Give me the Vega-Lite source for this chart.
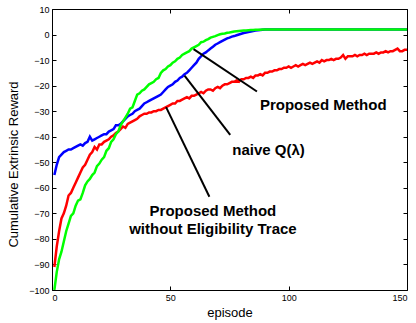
{
  "$schema": "https://vega.github.io/schema/vega-lite/v6.json",
  "width": 355,
  "height": 281,
  "autosize": {"type": "none"},
  "padding": {"left": 52, "top": 9, "right": 9, "bottom": 33},
  "background": "white",
  "config": {
    "view": {"stroke": "black", "strokeWidth": 1},
    "font": "Liberation Sans",
    "axis": {"grid": false, "domain": false, "tickColor": "black", "tickSize": -4, "tickWidth": 1, "labelColor": "black", "labelFontSize": 9, "labelFont": "Liberation Sans", "labelPadding": 7, "titleFont": "Liberation Sans", "titleFontWeight": "normal", "titleFontSize": 13, "titleColor": "black"}
  },
  "datasets": {
    "curves": [
      {"ep":1,"g":-100,"b":-55,"r":-91},{"ep":2,"g":-93,"b":-51,"r":-83},{"ep":3,"g":-88,"b":-48,"r":-77},{"ep":4,"g":-85,"b":-47,"r":-72},{"ep":5,"g":-81,"b":-46,"r":-70},
      {"ep":6,"g":-77,"b":-45.5,"r":-67},{"ep":7,"g":-74,"b":-45,"r":-63},{"ep":8,"g":-71,"b":-45,"r":-62},{"ep":9,"g":-70,"b":-44.5,"r":-60},{"ep":10,"g":-67,"b":-44,"r":-58},
      {"ep":11,"g":-65,"b":-43.5,"r":-56},{"ep":12,"g":-64.5,"b":-43,"r":-54},{"ep":13,"g":-62,"b":-43.5,"r":-52},{"ep":14,"g":-59,"b":-42.5,"r":-51},{"ep":15,"g":-57.5,"b":-42,"r":-49},
      {"ep":16,"g":-56.5,"b":-40,"r":-47},{"ep":17,"g":-55,"b":-41.5,"r":-46},{"ep":18,"g":-54,"b":-41,"r":-44},{"ep":19,"g":-51.5,"b":-40.5,"r":-45},{"ep":20,"g":-50.5,"b":-40,"r":-43},
      {"ep":21,"g":-49,"b":-39.5,"r":-43},{"ep":22,"g":-48,"b":-39,"r":-42},{"ep":23,"g":-45.5,"b":-39,"r":-41.5},{"ep":24,"g":-44.5,"b":-38,"r":-41},{"ep":25,"g":-42,"b":-37.5,"r":-40},
      {"ep":26,"g":-41,"b":-37,"r":-39.5},{"ep":27,"g":-39,"b":-35.5,"r":-38.5},{"ep":28,"g":-38,"b":-35.5,"r":-38},{"ep":29,"g":-35.5,"b":-35,"r":-37},{"ep":30,"g":-34,"b":-34,"r":-36},
      {"ep":31,"g":-32.5,"b":-33,"r":-36.5},{"ep":32,"g":-31,"b":-32,"r":-35},{"ep":33,"g":-29,"b":-31.5,"r":-34.5},{"ep":34,"g":-28.5,"b":-31,"r":-34},{"ep":35,"g":-26,"b":-30,"r":-33.5},
      {"ep":36,"g":-23.5,"b":-29.5,"r":-33},{"ep":37,"g":-23,"b":-29,"r":-32},{"ep":38,"g":-22,"b":-28,"r":-31.5},{"ep":39,"g":-21.5,"b":-27,"r":-31},{"ep":40,"g":-20.5,"b":-26.5,"r":-31},
      {"ep":41,"g":-19.5,"b":-26,"r":-30.5},{"ep":42,"g":-19,"b":-25.5,"r":-30.5},{"ep":43,"g":-18.5,"b":-25,"r":-30},{"ep":44,"g":-17.5,"b":-24.5,"r":-30},{"ep":45,"g":-17,"b":-24,"r":-29.5},
      {"ep":46,"g":-15,"b":-23.5,"r":-29.5},{"ep":47,"g":-14,"b":-22.5,"r":-29},{"ep":48,"g":-13.5,"b":-21.5,"r":-28.5},{"ep":49,"g":-12.5,"b":-20.5,"r":-28},{"ep":50,"g":-12,"b":-20,"r":-27.5},
      {"ep":51,"g":-11,"b":-19.5,"r":-27},{"ep":52,"g":-10.5,"b":-18.5,"r":-27},{"ep":53,"g":-9.5,"b":-18,"r":-26},{"ep":54,"g":-9,"b":-17,"r":-26},{"ep":55,"g":-8,"b":-16.5,"r":-25.5},
      {"ep":56,"g":-7.5,"b":-15.5,"r":-25},{"ep":57,"g":-7,"b":-15,"r":-24.5},{"ep":58,"g":-6.5,"b":-14,"r":-25},{"ep":59,"g":-5.5,"b":-13,"r":-24},{"ep":60,"g":-5,"b":-12,"r":-24},
      {"ep":61,"g":-4.5,"b":-11,"r":-23.5},{"ep":62,"g":-4,"b":-9.5,"r":-23},{"ep":63,"g":-3,"b":-8.5,"r":-22.5},{"ep":64,"g":-2.8,"b":-7.5,"r":-23},{"ep":65,"g":-2.2,"b":-7,"r":-22},
      {"ep":66,"g":-1.8,"b":-6.2,"r":-21.5},{"ep":67,"g":-1.2,"b":-5.5,"r":-21.5},{"ep":68,"g":-0.9,"b":-4.8,"r":-22},{"ep":69,"g":-0.6,"b":-4,"r":-21},{"ep":70,"g":-0.2,"b":-3.5,"r":-20.5},
      {"ep":71,"g":0.1,"b":-3,"r":-21},{"ep":72,"g":0.3,"b":-2.5,"r":-20},{"ep":73,"g":0.4,"b":-2,"r":-19.5},{"ep":74,"g":0.7,"b":-1.5,"r":-19.5},{"ep":75,"g":0.8,"b":-1.2,"r":-19},
      {"ep":76,"g":1,"b":-0.8,"r":-18.5},{"ep":77,"g":1.2,"b":-0.6,"r":-18.5},{"ep":78,"g":1.3,"b":-0.3,"r":-18},{"ep":79,"g":1.4,"b":0,"r":-18.5},{"ep":80,"g":1.5,"b":0.3,"r":-17.5},
      {"ep":81,"g":1.6,"b":0.6,"r":-17.5},{"ep":82,"g":1.6,"b":0.8,"r":-17},{"ep":83,"g":1.7,"b":1,"r":-17},{"ep":84,"g":1.8,"b":1.2,"r":-16.5},{"ep":85,"g":1.8,"b":1.4,"r":-17},
      {"ep":86,"g":1.9,"b":1.6,"r":-16},{"ep":87,"g":1.9,"b":1.7,"r":-16},{"ep":88,"g":1.9,"b":1.8,"r":-15.5},{"ep":89,"g":2,"b":1.9,"r":-16},{"ep":90,"g":2,"b":2,"r":-15},
      {"ep":91,"g":2,"b":2,"r":-15},{"ep":92,"g":2,"b":2,"r":-14.5},{"ep":93,"g":2,"b":2,"r":-14.5},{"ep":94,"g":2,"b":2,"r":-14},{"ep":95,"g":2,"b":2,"r":-14},
      {"ep":96,"g":2,"b":2,"r":-13.5},{"ep":97,"g":2,"b":2,"r":-13.5},{"ep":98,"g":2,"b":2,"r":-13},{"ep":99,"g":2,"b":2,"r":-13},{"ep":100,"g":2,"b":2,"r":-12.5},
      {"ep":101,"g":2,"b":2,"r":-13},{"ep":102,"g":2,"b":2,"r":-12.5},{"ep":103,"g":2,"b":2,"r":-12},{"ep":104,"g":2,"b":2,"r":-12.5},{"ep":105,"g":2,"b":2,"r":-12},
      {"ep":106,"g":2,"b":2,"r":-11.5},{"ep":107,"g":2,"b":2,"r":-12},{"ep":108,"g":2,"b":2,"r":-11.5},{"ep":109,"g":2,"b":2,"r":-11},{"ep":110,"g":2,"b":2,"r":-11.5},
      {"ep":111,"g":2,"b":2,"r":-11},{"ep":112,"g":2,"b":2,"r":-10.5},{"ep":113,"g":2,"b":2,"r":-11},{"ep":114,"g":2,"b":2,"r":-10},{"ep":115,"g":2,"b":2,"r":-10.5},
      {"ep":116,"g":2,"b":2,"r":-10},{"ep":117,"g":2,"b":2,"r":-10},{"ep":118,"g":2,"b":2,"r":-9.5},{"ep":119,"g":2,"b":2,"r":-10},{"ep":120,"g":2,"b":2,"r":-9.5},
      {"ep":121,"g":2,"b":2,"r":-9.5},{"ep":122,"g":2,"b":2,"r":-9},{"ep":123,"g":2,"b":2,"r":-8},{"ep":124,"g":2,"b":2,"r":-9.5},{"ep":125,"g":2,"b":2,"r":-8.5},
      {"ep":126,"g":2,"b":2,"r":-8.5},{"ep":127,"g":2,"b":2,"r":-8.5},{"ep":128,"g":2,"b":2,"r":-8},{"ep":129,"g":2,"b":2,"r":-8.5},{"ep":130,"g":2,"b":2,"r":-8},
      {"ep":131,"g":2,"b":2,"r":-8},{"ep":132,"g":2,"b":2,"r":-7.5},{"ep":133,"g":2,"b":2,"r":-8},{"ep":134,"g":2,"b":2,"r":-7.5},{"ep":135,"g":2,"b":2,"r":-7.5},
      {"ep":136,"g":2,"b":2,"r":-7.5},{"ep":137,"g":2,"b":2,"r":-7},{"ep":138,"g":2,"b":2,"r":-7.5},{"ep":139,"g":2,"b":2,"r":-7},{"ep":140,"g":2,"b":2,"r":-7},
      {"ep":141,"g":2,"b":2,"r":-6.5},{"ep":142,"g":2,"b":2,"r":-7},{"ep":143,"g":2,"b":2,"r":-6.5},{"ep":144,"g":2,"b":2,"r":-6.5},{"ep":145,"g":2,"b":2,"r":-6},
      {"ep":146,"g":2,"b":2,"r":-5.5},{"ep":147,"g":2,"b":2,"r":-6.5},{"ep":148,"g":2,"b":2,"r":-6.5},{"ep":149,"g":2,"b":2,"r":-6},{"ep":150,"g":2,"b":2,"r":-6}
    ],
    "pointers": [
      {"x1": 59.8, "y1": -5.7, "x2": 86.6, "y2": -22.3},
      {"x1": 56, "y1": -16.1, "x2": 75.3, "y2": -39.3},
      {"x1": 48.2, "y1": -28.4, "x2": 66.5, "y2": -63.5}
    ],
    "labels": [
      {"tx": 114.6, "ty": -27.5, "text": "Proposed Method"},
      {"tx": 91.5, "ty": -45.1, "text": "naive Q(λ)"},
      {"tx": 68, "ty": -68.9, "text": "Proposed Method"},
      {"tx": 68, "ty": -76.1, "text": "without Eligibility Trace"}
    ]
  },
  "layer": [
    {
      "data": {"name": "curves"},
      "transform": [{"fold": ["r", "b", "g"], "as": ["series", "value"]}],
      "mark": {"type": "line", "strokeWidth": 2.5, "clip": true},
      "encoding": {
        "x": {"field": "ep", "type": "quantitative", "scale": {"domain": [0, 150], "nice": false},
              "axis": {"orient": "bottom", "values": [0, 50, 100, 150], "title": "episode", "titleX": 177.5, "titleY": 26, "titleBaseline": "alphabetic"}},
        "y": {"field": "value", "type": "quantitative", "scale": {"domain": [-100, 10], "nice": false},
              "axis": {"orient": "left", "values": [-100, -90, -80, -70, -60, -50, -40, -30, -20, -10, 0, 10], "title": "Cumulative Extrinsic Reward", "titleX": -35, "titleY": 155, "titleBaseline": "alphabetic"}},
        "color": {"field": "series", "type": "nominal", "scale": {"domain": ["r", "b", "g"], "range": ["#ff0000", "#0000ff", "#00ff00"]}, "legend": null}
      }
    },
    {
      "data": {"name": "pointers"},
      "mark": {"type": "rule", "color": "black", "strokeWidth": 2},
      "encoding": {
        "x": {"field": "x1", "type": "quantitative", "scale": {"domain": [0, 150], "nice": false}, "axis": null},
        "y": {"field": "y1", "type": "quantitative", "scale": {"domain": [-100, 10], "nice": false}, "axis": null},
        "x2": {"field": "x2"},
        "y2": {"field": "y2"}
      }
    },
    {
      "data": {"name": "labels"},
      "mark": {"type": "text", "font": "Liberation Sans", "fontWeight": "bold", "fontSize": 15, "color": "black", "align": "center", "baseline": "middle"},
      "encoding": {
        "x": {"field": "tx", "type": "quantitative", "scale": {"domain": [0, 150], "nice": false},
              "axis": {"orient": "top", "values": [0, 50, 100, 150], "labels": false, "title": null}},
        "y": {"field": "ty", "type": "quantitative", "scale": {"domain": [-100, 10], "nice": false},
              "axis": {"orient": "right", "values": [-100, -90, -80, -70, -60, -50, -40, -30, -20, -10, 0, 10], "labels": false, "title": null}},
        "text": {"field": "text"}
      }
    }
  ],
  "resolve": {"axis": {"x": "independent", "y": "independent"}}
}
